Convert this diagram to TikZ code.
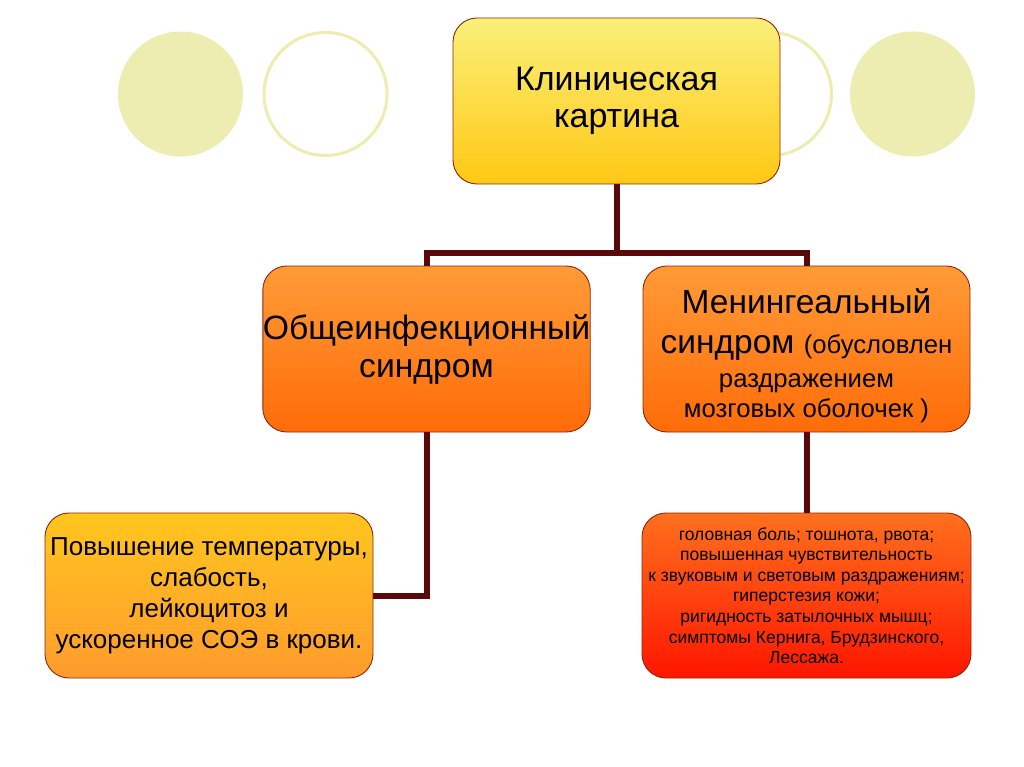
\documentclass[tikz,border=0pt]{standalone}
\usepackage{fontspec}
\setmainfont{Liberation Sans}
\begin{document}
\begin{tikzpicture}[x=1pt,y=-1pt,
  conn/.style={draw=linkc,line width=6pt,line join=miter},
  box/.style={draw=edgec,line width=0.9pt,rounded corners=24pt,align=center,inner sep=0pt,text=black},
  dot/.style={fill=circc,draw=none},
  ring/.style={draw=circc,line width=3pt}]
\definecolor{circc}{RGB}{237,237,178}
\definecolor{linkc}{RGB}{90,8,8}
\definecolor{edgec}{RGB}{140,40,10}
\useasboundingbox (0,0) rectangle (1024,767);
\fill[white] (0,0) rectangle (1024,767);
% decorative circles
\fill[dot] (180.5,94) circle (62.5);
\draw[ring] (325.5,94) circle (61.5);
\draw[ring] (770,94) circle (61.5);
\fill[dot] (912.5,94) circle (62.5);
% boxes
\node[box,minimum width=327pt,minimum height=166pt,top color={rgb,255:red,250;green,240;blue,122},bottom color={rgb,255:red,255;green,200;blue,20},
  font=\fontsize{34}{37}\selectfont] (top) at (616.5,101) {Клиническая\\картина};
\node[box,minimum width=327pt,minimum height=166pt,top color={rgb,255:red,255;green,155;blue,55},bottom color={rgb,255:red,255;green,108;blue,8},
  font=\fontsize{33.7}{38}\selectfont] (ml) at (426.5,349) {Общеинфекционный\\синдром};
\node[box,minimum width=327pt,minimum height=166pt,top color={rgb,255:red,255;green,155;blue,55},bottom color={rgb,255:red,255;green,108;blue,8},
  font=\fontsize{33.5}{38}\selectfont] (mr) at (806.5,349)
  {\rule{0pt}{38pt}Менингеальный\\[2pt]синдром {\fontsize{25.7}{30}\selectfont (обусловлен}\\[-4pt]{\fontsize{25.7}{30}\selectfont раздражением}\\[-8pt]{\fontsize{25.7}{30}\selectfont мозговых оболочек )}};
\node[box,minimum width=328pt,minimum height=165pt,top color={rgb,255:red,255;green,198;blue,30},bottom color={rgb,255:red,255;green,155;blue,45},
  font=\fontsize{26}{31}\selectfont] (bl) at (209,595.5)
  {Повышение температуры,\\слабость,\\лейкоцитоз и\\ускоренное СОЭ в крови.};
\node[box,minimum width=329pt,minimum height=165pt,top color={rgb,255:red,255;green,112;blue,30},bottom color={rgb,255:red,255;green,22;blue,0},
  font=\fontsize{17.5}{20.6}\selectfont] (br) at (806.5,595.5)
  {головная боль; тошнота, рвота;\\повышенная чувствительность\\к звуковым и световым раздражениям;\\гиперстезия кожи;\\ригидность затылочных мышц;\\симптомы Кернига, Брудзинского,\\Лессажа.};
% connectors
\coordinate (bus) at (616.5,253);
\draw[conn] (top.south) -- (bus);
\draw[conn] (ml.north) |- (bus) -| (mr.north);
\draw[conn] (ml.south) |- (bl.east);
\draw[conn] (mr.south) -- (br.north);
\end{tikzpicture}
\end{document}
